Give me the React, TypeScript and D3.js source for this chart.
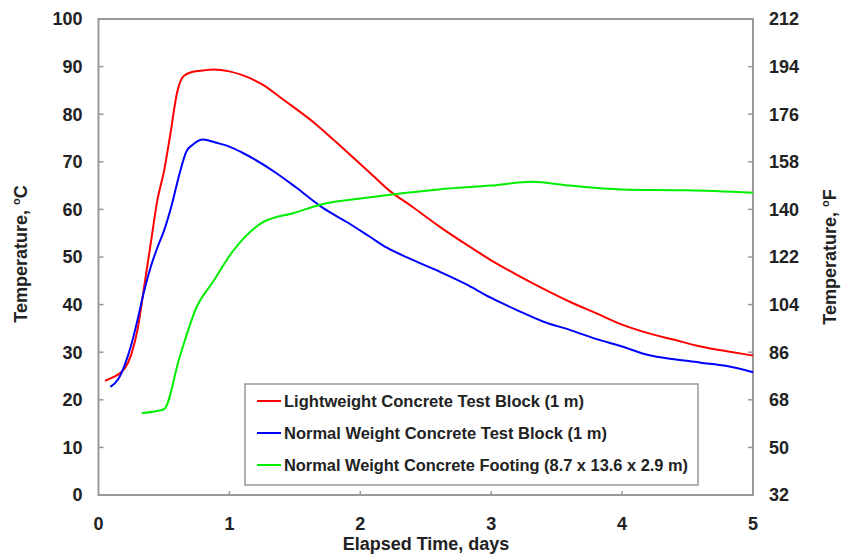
import React from "react";
import * as d3 from "d3";

const redDays = [0.05, 0.1, 0.2, 0.25, 0.3, 0.35, 0.4, 0.45, 0.5, 0.55, 0.6, 0.65, 0.72, 0.8, 0.88, 1.0, 1.1, 1.26, 1.4, 1.67, 1.8, 2.05, 2.22, 2.4, 2.6, 2.8, 3.0, 3.2, 3.4, 3.6, 3.8, 4.0, 4.2, 4.4, 4.6, 4.8, 5.0];
const redTemps = [24, 24.6, 26.6, 29.5, 35, 44, 53, 62, 68, 76, 84.5, 88, 88.9, 89.2, 89.4, 89, 88.2, 86.1, 83.3, 77.7, 74.5, 68.3, 64, 60.5, 56.5, 52.8, 49.3, 46.2, 43.3, 40.6, 38.2, 35.8, 34, 32.6, 31.2, 30.2, 29.3];

const blueDays = [0.09, 0.15, 0.2, 0.25, 0.3, 0.35, 0.4, 0.45, 0.5, 0.56, 0.62, 0.67, 0.72, 0.8, 0.9, 1.0, 1.1, 1.36, 1.5, 1.72, 1.9, 2.07, 2.2, 2.4, 2.6, 2.8, 3.0, 3.2, 3.4, 3.6, 3.8, 4.0, 4.2, 4.4, 4.6, 4.8, 5.0];
const blueTemps = [22.7, 24.3, 27.3, 31.5, 37, 43, 48, 52, 55.5, 61, 67.6, 72.1, 73.6, 74.7, 74, 73.2, 71.9, 67.6, 64.8, 60.2, 57.3, 54.3, 52, 49.4, 47, 44.4, 41.4, 38.8, 36.4, 34.7, 32.8, 31.2, 29.4, 28.5, 27.8, 27.1, 25.8];

const greenDays = [0.33, 0.5, 0.62, 0.75, 0.88, 1.02, 1.25, 1.5, 1.74, 2.0, 2.23, 2.6, 3.0, 3.31, 3.6, 4.0, 4.5, 5.0];
const greenTemps = [17.2, 18, 29, 39.5, 45, 51, 57.2, 59.3, 61.3, 62.3, 63.1, 64.2, 65, 65.8, 65, 64.2, 64, 63.5];

const xTicks = [0, 1, 2, 3, 4, 5];
const yTicksC = [0, 10, 20, 30, 40, 50, 60, 70, 80, 90, 100];
const yTicksF = [32, 50, 68, 86, 104, 122, 140, 158, 176, 194, 212];

const seriesNames = [
  "Lightweight Concrete Test Block (1 m)",
  "Normal Weight Concrete Test Block (1 m)",
  "Normal Weight Concrete Footing (8.7 x 13.6 x 2.9 m)",
];
const seriesColors = ["#ff0000", "#0000ff", "#00ee00"];
const legendTextWidths = [300, 323, 404];

export default function App() {
  const W = 842, H = 555;
  const L = 98.5, R = 753, T = 19, B = 495;
  const x = d3.scaleLinear().domain([0, 5]).range([L, R]);
  const y = d3.scaleLinear().domain([0, 100]).range([B, T]);
  const yF = d3.scaleLinear().domain([32, 212]).range([B, T]);
  const line = d3.line<[number, number]>().x(d => x(d[0])).y(d => y(d[1])).curve(d3.curveMonotoneX);
  const series = [
    d3.zip(redDays, redTemps) as [number, number][],
    d3.zip(blueDays, blueTemps) as [number, number][],
    d3.zip(greenDays, greenTemps) as [number, number][],
  ];
  const font = "Arial, 'Liberation Sans', sans-serif";
  const axisColor = "#999";
  const textColor = "#222";
  const legX = 245, legY = 384, legW = 453, legH = 101;
  const tickFs = 18;

  return (
    <svg width={W} height={H} style={{ position: "absolute", left: 0, top: 0 }} fontFamily={font}>
      <rect width={W} height={H} fill="#fff" />
      <rect x={L} y={T} width={R - L} height={B - T} fill="none" stroke={axisColor} strokeWidth={2} />
      {yTicksC.map(t => (
        <g key={"lc" + t}>
          {t > 0 && t < 100 && <line x1={L} x2={L + 5} y1={y(t)} y2={y(t)} stroke={axisColor} strokeWidth={1.5} />}
          <text x={82.5} y={y(t)} dy="0.35em" textAnchor="end" fontSize={tickFs} fontWeight="bold" fill={textColor}>{t}</text>
        </g>
      ))}
      {yTicksF.map(t => (
        <g key={"rf" + t}>
          {t > 32 && t < 212 && <line x1={R - 5} x2={R} y1={yF(t)} y2={yF(t)} stroke={axisColor} strokeWidth={1.5} />}
          <text x={769} y={yF(t)} dy="0.35em" textAnchor="start" fontSize={tickFs} fontWeight="bold" fill={textColor}>{t}</text>
        </g>
      ))}
      {xTicks.map(t => (
        <g key={"x" + t}>
          {t > 0 && t < 5 && <line x1={x(t)} x2={x(t)} y1={B} y2={B - 4} stroke={axisColor} strokeWidth={1.5} />}
          <text x={x(t)} y={523.5} dy="0.35em" textAnchor="middle" fontSize={tickFs} fontWeight="bold" fill={textColor}>{t}</text>
        </g>
      ))}
      <text x={426} y={543.5} dy="0.35em" textAnchor="middle" fontSize={18} fontWeight="bold" fill={textColor}>Elapsed Time, days</text>
      <text transform={`translate(27,${254}) rotate(-90)`} textAnchor="middle" fontSize={18} fontWeight="bold" fill={textColor}>
        Temperature, <tspan fontSize={11} dy="-7">o</tspan><tspan dy="7">C</tspan>
      </text>
      <text transform={`translate(836,${257}) rotate(-90)`} textAnchor="middle" fontSize={18} fontWeight="bold" fill={textColor}>
        Temperature, <tspan fontSize={11} dy="-7">o</tspan><tspan dy="7">F</tspan>
      </text>
      {series.map((s, i) => (
        <path key={"s" + i} d={line(s) || ""} fill="none" stroke={seriesColors[i]} strokeWidth={2} />
      ))}
      <rect x={legX} y={legY} width={legW} height={legH} fill="#fff" stroke={axisColor} strokeWidth={1.5} />
      {seriesNames.map((n, i) => {
        const yy = legY + 17 + i * 32;
        return (
          <g key={"l" + i}>
            <line x1={257} x2={281} y1={yy} y2={yy} stroke={seriesColors[i]} strokeWidth={2} />
            <text x={284} y={yy} dy="0.35em" fontSize={16} fontWeight="bold" fill={textColor}
              textLength={legendTextWidths[i]} lengthAdjust="spacingAndGlyphs">{n}</text>
          </g>
        );
      })}
    </svg>
  );
}
